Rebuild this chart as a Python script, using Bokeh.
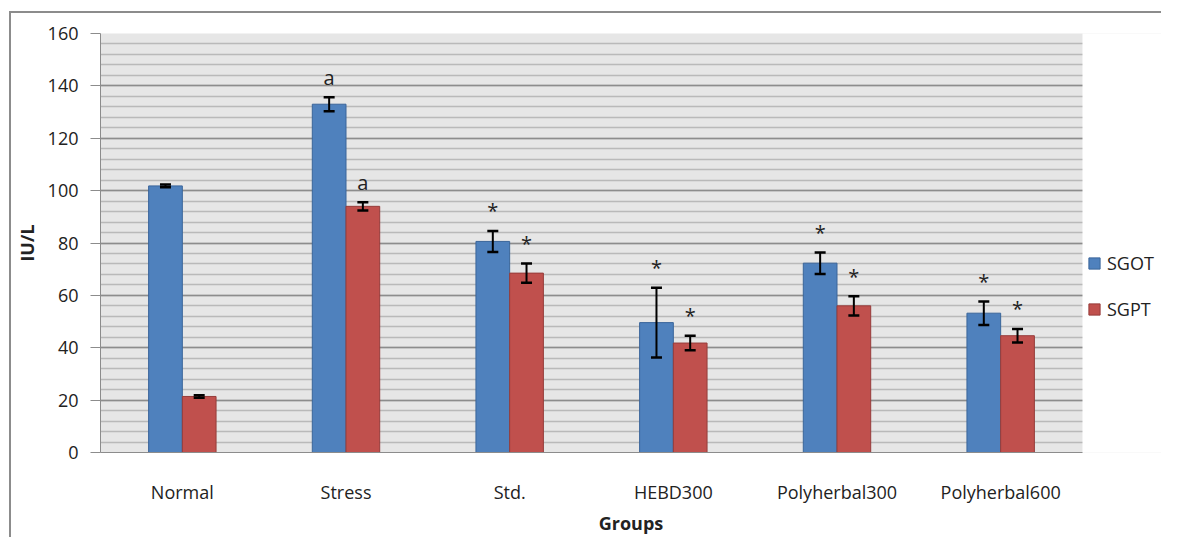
from bokeh.plotting import figure
from bokeh.models import (Range1d, ColumnDataSource, Whisker, TeeHead, FixedTicker,
                          SingleIntervalTicker, Legend, LegendItem)
from bokeh.transform import dodge
from bokeh.core.properties import value
from bokeh.embed import file_html
from bokeh.resources import INLINE

groups = ["Normal", "Stress", "Std.", "HEBD300", "Polyherbal300", "Polyherbal600"]
sgot = [101.8, 133.0, 80.6, 49.6, 72.3, 53.2]
sgot_err = [0.5, 2.7, 4.0, 13.3, 4.1, 4.5]
sgpt = [21.4, 94.0, 68.5, 41.8, 56.0, 44.6]
sgpt_err = [0.5, 1.6, 3.7, 2.8, 3.7, 2.6]
sgot_marks = ["", "a", "*", "*", "*", "*"]
sgpt_marks = ["", "a", "*", "*", "*", "*"]

FONT = "Open Sans"
BLUE = "#4F81BD"
RED = "#C0504D"
TXT = "#222222"

W, H = 1161, 537
LEFT, RIGHT_DATA, TOP, BOTTOM = 100, 79, 33, 85
n = len(groups)
frame_w = W - LEFT
data_w = W - LEFT - RIGHT_DATA
x_start = -0.5
x_data_end = n - 0.5
x_end = x_start + n * frame_w / data_w

src = ColumnDataSource(dict(
    idx=list(range(n)), groups=groups,
    sgot=sgot, sgpt=sgpt,
    sgot_up=[v + e for v, e in zip(sgot, sgot_err)],
    sgot_lo=[v - e for v, e in zip(sgot, sgot_err)],
    sgpt_up=[v + e for v, e in zip(sgpt, sgpt_err)],
    sgpt_lo=[v - e for v, e in zip(sgpt, sgpt_err)],
    sgot_marks=sgot_marks, sgpt_marks=sgpt_marks,
))

p = figure(width=W, height=H, x_range=Range1d(x_start, x_end), y_range=Range1d(0, 160),
           output_backend="svg", toolbar_location=None,
           min_border_left=LEFT, min_border_right=0, min_border_top=TOP, min_border_bottom=BOTTOM)

p.background_fill_color = "#E6E6E6"
p.border_fill_alpha = 0
p.outline_line_color = None
p.styles = {
    "background-color": "white",
    "background-image": "linear-gradient(#8C8C8C, #8C8C8C), linear-gradient(#8C8C8C, #8C8C8C)",
    "background-size": "2px 100%, 100% 2px",
    "background-position": "9px 11px, 9px 11px",
    "background-repeat": "no-repeat",
}

# white area to the right of the plot area (legend zone)
p.quad(left=[x_data_end], right=[x_end], bottom=[-2], top=[162],
       fill_color="white", line_color=None, level="glyph")

off = 0.103
w = 0.206
r1 = p.vbar(x=dodge("idx", -off), top="sgot", width=w, source=src,
            fill_color=BLUE, line_color="#3A659A", line_width=1)
r2 = p.vbar(x=dodge("idx", off), top="sgpt", width=w, source=src,
            fill_color=RED, line_color="#963C3A", line_width=1)

for xoff, up, lo in [(-off, "sgot_up", "sgot_lo"), (off, "sgpt_up", "sgpt_lo")]:
    wk = Whisker(base=dodge("idx", xoff), upper=up, lower=lo, source=src,
                 line_color="black", line_width=2, level="annotation",
                 upper_head=TeeHead(size=11, line_width=2.5, line_color="black"),
                 lower_head=TeeHead(size=11, line_width=2.5, line_color="black"))
    p.add_layout(wk)

for xoff, up, marks in [(-off, "sgot_up", "sgot_marks"), (off, "sgpt_up", "sgpt_marks")]:
    p.text(x=dodge("idx", xoff), y=up, text=marks, source=src,
           text_align="center", text_baseline="middle", y_offset=-20,
           text_font=value(FONT), text_font_size="20px", text_color=TXT)

# y axis
p.yaxis.ticker = SingleIntervalTicker(interval=20, num_minor_ticks=5)
p.yaxis.axis_line_color = "#8C8C8C"
p.yaxis.major_tick_line_color = "#8C8C8C"
p.yaxis.major_tick_out = 10
p.yaxis.major_tick_in = 0
p.yaxis.minor_tick_line_color = None
p.yaxis.major_label_text_font = FONT
p.yaxis.major_label_text_font_size = "18px"
p.yaxis.major_label_text_color = TXT
p.yaxis.major_label_standoff = 12
p.yaxis.axis_label = "IU/L"
p.yaxis.axis_label_text_font = FONT
p.yaxis.axis_label_text_font_style = "bold"
p.yaxis.axis_label_text_font_size = "18px"
p.yaxis.axis_label_text_color = TXT
p.yaxis.axis_label_standoff = 6

# x axis
p.xaxis.ticker = FixedTicker(ticks=list(range(n)))
p.xaxis.major_label_overrides = {i: g for i, g in enumerate(groups)}
p.xaxis.bounds = (x_start, x_data_end)
p.xaxis.axis_line_color = "#8C8C8C"
p.xaxis.major_tick_line_color = None
p.xaxis.minor_tick_line_color = None
p.xaxis.major_label_text_font = FONT
p.xaxis.major_label_text_font_size = "18px"
p.xaxis.major_label_text_color = TXT
p.xaxis.major_label_standoff = 21
p.xaxis.axis_label = "Groups"
p.xaxis.axis_label_text_font = FONT
p.xaxis.axis_label_text_font_style = "bold"
p.xaxis.axis_label_text_font_size = "18px"
p.xaxis.axis_label_text_color = TXT
p.xaxis.axis_label_standoff = 4

# grid
p.xgrid.grid_line_color = None
p.ygrid.grid_line_color = "#8C8C8C"
p.ygrid.grid_line_width = 1.5
p.ygrid.minor_grid_line_color = "#B9B9B9"
p.ygrid.minor_grid_line_width = 1.5

legend = Legend(items=[LegendItem(label="SGOT", renderers=[r1]),
                       LegendItem(label="SGPT", renderers=[r2])],
                location=(987, 131), orientation="vertical",
                padding=0, margin=0, spacing=21,
                glyph_width=14, glyph_height=14, label_height=25, label_standoff=6,
                label_text_font=FONT, label_text_font_size="18px", label_text_color=TXT,
                border_line_color=None, background_fill_alpha=0)
p.add_layout(legend)

open("out.html", "w").write(file_html(p, INLINE))
